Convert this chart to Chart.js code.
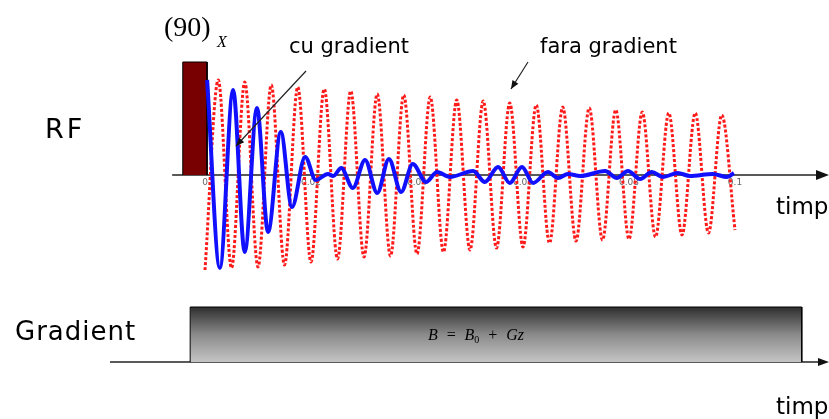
<!DOCTYPE html>
<html><head><meta charset="utf-8">
<script src="https://cdn.jsdelivr.net/npm/chart.js@4/dist/chart.umd.min.js"></script>
<style>html,body{margin:0;padding:0;background:#fff;overflow:hidden}canvas{display:block}</style>
</head><body>
<canvas id="c" width="829" height="419"></canvas>
<script>
// RF without gradient ("fara gradient"): extrema
const redTime = [0,0.0025,0.005,0.0075,0.01,0.0125,0.015,0.0175,0.02,0.0225,0.025,0.0275,0.03,0.0325,0.035,0.0375,0.04,0.0425,0.045,0.0475,0.05,0.0525,0.055,0.0575,0.06,0.0625,0.065,0.0675,0.07,0.0725,0.075,0.0775,0.08,0.0825,0.085,0.0875,0.09,0.0925,0.095,0.0975,0.1];
const redValue = [-0.95,0.95,-0.93,0.93,-0.92,0.90,-0.90,0.88,-0.87,0.86,-0.84,0.84,-0.82,0.81,-0.81,0.80,-0.79,0.78,-0.77,0.75,-0.75,0.74,-0.73,0.72,-0.72,0.70,-0.68,0.68,-0.66,0.67,-0.65,0.65,-0.64,0.63,-0.62,0.62,-0.60,0.62,-0.58,0.60,-0.55];
// RF with gradient ("cu gradient"): extrema
const blueTime = [0.0004,0.0028,0.0053,0.0075,0.0098,0.0119,0.0143,0.0164,0.0189,0.0209,0.0232,0.0242,0.0257,0.0279,0.0302,0.0325,0.0347,0.0370,0.0392,0.0417,0.0438,0.0462,0.0506,0.0528,0.0553,0.0575,0.0598,0.0619,0.0647,0.0666,0.0685,0.0708,0.0755,0.0777,0.0798,0.0821,0.0843,0.0864,0.0892,0.0915,0.0958,0.0985,0.0998];
const blueValue = [0.95,-0.93,0.85,-0.77,0.67,-0.57,0.43,-0.32,0.18,-0.05,0.01,-0.01,0.07,-0.13,0.15,-0.18,0.16,-0.17,0.11,-0.07,0.03,-0.02,0.04,-0.07,0.08,-0.08,0.08,-0.08,0.03,-0.03,0.01,-0.01,0.04,-0.03,0.04,-0.04,0.03,-0.02,0.02,-0.01,0.01,-0.02,0.02];
// 90x pulse
const pulseTime = [-0.0042,-0.0042,0.0004,0.0004];
const pulseValue = [0,1.13,1.13,0];
// gradient on
const gradTime = [-0.0028,-0.0028,0.1126,0.1126];
const gradValue = [0,1,1,0];
// tick labels
const tickValues = [0,0.02,0.04,0.06,0.08,0.1];
const tickLabels = ['0','0.02','0.04','0.06','0.08','0.1'];

const zip = (xs, ys) => xs.map((x,i) => ({x, y: ys[i]}));

const sketch = {
  id: 'sketch',
  beforeDatasetsDraw(chart) {
    const c = chart.ctx, x = chart.scales.x, y = chart.scales.y, yG = chart.scales.yG;
    c.save();
    const y0 = y.getPixelForValue(0);
    c.strokeStyle = '#222'; c.lineWidth = 1.5;
    c.beginPath(); c.moveTo(x.getPixelForValue(-0.0062), y0); c.lineTo(818, y0); c.stroke();
    c.fillStyle = '#111';
    c.beginPath(); c.moveTo(829, y0); c.lineTo(816, y0-5); c.lineTo(816, y0+5); c.closePath(); c.fill();
    c.fillStyle = '#666'; c.font = '9px "DejaVu Sans"'; c.textAlign = 'center'; c.textBaseline = 'top';
    tickValues.forEach((v,i) => c.fillText(tickLabels[i], x.getPixelForValue(v), y0 + 3));
    const g0 = yG.getPixelForValue(0);
    c.strokeStyle = '#222'; c.lineWidth = 1.5;
    c.beginPath(); c.moveTo(110, g0); c.lineTo(820, g0); c.stroke();
    c.fillStyle = '#111';
    c.beginPath(); c.moveTo(829, g0); c.lineTo(818, g0-4); c.lineTo(818, g0+4); c.closePath(); c.fill();
    c.restore();
  },
  afterDatasetsDraw(chart) {
    const c = chart.ctx, yG = chart.scales.yG;
    c.save();
    c.fillStyle = '#000'; c.textBaseline = 'alphabetic'; c.textAlign = 'left';
    c.font = '27px "DejaVu Sans"';
    c.letterSpacing = '3px';
    c.fillText('RF', 45, 138);
    c.font = '26px "DejaVu Sans"';
    c.letterSpacing = '1px';
    c.fillText('Gradient', 15, 340);
    c.font = '23px "DejaVu Sans"';
    c.letterSpacing = '0px';
    c.fillText('timp', 776, 214);
    c.fillText('timp', 776, 414);
    c.font = '21px "DejaVu Sans"';
    c.fillText('cu gradient', 289, 53);
    c.fillText('fara gradient', 540, 53);
    // (90)x
    c.font = '28px "Liberation Serif"';
    c.fillText('(90)', 164, 36);
    c.font = 'italic 16px "Liberation Serif"';
    c.fillText('X', 217, 47);
    // B = B0 + Gz
    const bm = (yG.getPixelForValue(0) + yG.getPixelForValue(1)) / 2 + 5;
    c.font = 'italic 16px "Liberation Serif"';
    c.fillText('B  =  B', 428, bm);
    let w = c.measureText('B  =  B').width;
    c.font = '10px "Liberation Serif"';
    c.fillText('0', 428 + w, bm + 3);
    c.font = 'italic 16px "Liberation Serif"';
    c.fillText('  +  Gz', 428 + w + 5, bm);
    const arrow = (x1,y1,x2,y2) => {
      c.strokeStyle = '#222'; c.fillStyle = '#111'; c.lineWidth = 1.2;
      c.beginPath(); c.moveTo(x1,y1); c.lineTo(x2,y2); c.stroke();
      const a = Math.atan2(y2-y1, x2-x1), L = 9, s = 0.4;
      c.beginPath(); c.moveTo(x2,y2);
      c.lineTo(x2 - L*Math.cos(a-s), y2 - L*Math.sin(a-s));
      c.lineTo(x2 - L*Math.cos(a+s), y2 - L*Math.sin(a+s));
      c.closePath(); c.fill();
    };
    arrow(306, 71, 236, 146);
    arrow(528, 62, 511, 89);
    c.restore();
  }
};

new Chart(document.getElementById('c'), {
  type: 'line',
  data: {
    datasets: [
      { label: 'cu gradient', data: zip(blueTime, blueValue), yAxisID: 'y', borderColor: '#1010ff', borderWidth: 4, pointRadius: 0, cubicInterpolationMode: 'monotone', fill: false, order: 0 },
      { label: 'fara gradient', data: zip(redTime, redValue), yAxisID: 'y', borderColor: '#ff1a1a', borderWidth: 3, borderDash: [3,2], pointRadius: 0, cubicInterpolationMode: 'monotone', fill: false, order: 1 },
      { label: '(90)x', data: zip(pulseTime, pulseValue), yAxisID: 'y', borderColor: '#000', borderWidth: 1, backgroundColor: '#780000', pointRadius: 0, tension: 0, fill: 'origin', order: 2 },
      { label: 'Gradient', data: zip(gradTime, gradValue), yAxisID: 'yG', borderColor: '#000', borderWidth: 1, pointRadius: 0, tension: 0, fill: 'origin', order: 3,
        backgroundColor: (ctx) => {
          const ch = ctx.chart; if (!ch.chartArea) return '#888';
          const top = ch.scales.yG.getPixelForValue(1), bot = ch.scales.yG.getPixelForValue(0);
          const g = ch.ctx.createLinearGradient(0, top, 0, bot);
          g.addColorStop(0, '#2e2e2e'); g.addColorStop(0.5, '#8a8a8a'); g.addColorStop(1, '#c4c4c4');
          return g;
        } }
    ]
  },
  options: {
    responsive: false, animation: false, devicePixelRatio: 1,
    layout: { padding: 0 },
    plugins: { legend: { display: false }, tooltip: { enabled: false }, title: { display: false } },
    scales: {
      x: { type: 'linear', min: -205/5300, max: 624/5300, display: false },
      y: { min: -2.44, max: 1.75, display: false },
      yG: { min: -57/55, max: 362/55, display: false }
    }
  },
  plugins: [sketch]
});
</script>
</body></html>
